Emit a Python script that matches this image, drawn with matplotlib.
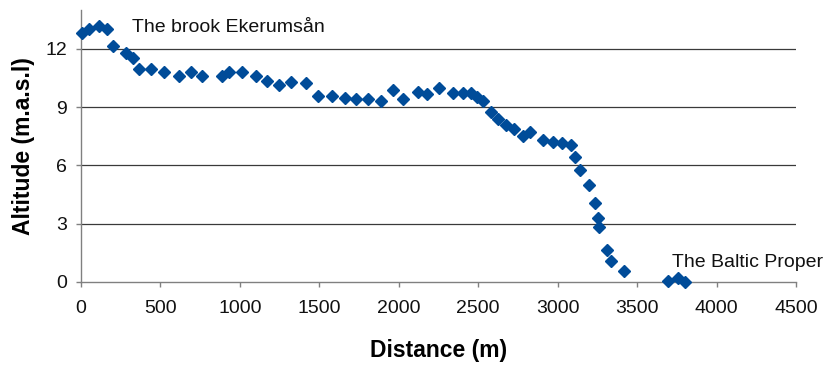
import matplotlib
matplotlib.use("Agg")
import matplotlib.pyplot as plt

# Longitudinal profile of the brook Ekerumsån down to the Baltic Proper
distance_m = [4, 52, 115, 162, 203, 283, 329, 365, 441, 522, 619, 690, 760,
              886, 933, 1011, 1101, 1173, 1246, 1322, 1414, 1494, 1578, 1662,
              1729, 1808, 1886, 1966, 2025, 2119, 2176, 2255, 2343, 2402, 2453,
              2494, 2532, 2579, 2626, 2675, 2725, 2780, 2826, 2906, 2969, 3025,
              3082, 3109, 3141, 3199, 3235, 3252, 3262, 3309, 3334, 3419, 3692,
              3759, 3801]
altitude_m = [12.84, 13.01, 13.20, 13.01, 12.17, 11.81, 11.52, 10.97, 10.97,
              10.80, 10.61, 10.80, 10.62, 10.61, 10.83, 10.83, 10.62, 10.37,
              10.14, 10.31, 10.26, 9.59, 9.59, 9.49, 9.41, 9.42, 9.32, 9.89,
              9.41, 9.80, 9.68, 9.97, 9.72, 9.72, 9.72, 9.51, 9.34, 8.77, 8.39,
              8.08, 7.86, 7.52, 7.71, 7.31, 7.22, 7.14, 7.05, 6.45, 5.77, 4.99,
              4.08, 3.31, 2.82, 1.65, 1.08, 0.57, 0.07, 0.22, 0.02]

x_ticks = [0, 500, 1000, 1500, 2000, 2500, 3000, 3500, 4000, 4500]
y_ticks = [0, 3, 6, 9, 12]

plt.rcParams['font.family'] = ['Liberation Sans', 'DejaVu Sans']

fig = plt.figure(figsize=(8.23, 3.65), dpi=100)
ax = fig.add_axes([0.0984, 0.2274, 0.8688, 0.7452])

ax.plot(distance_m, altitude_m, linestyle='none', marker='D', markersize=6.5,
        color='#004C99', clip_on=False, zorder=3)

ax.set_xlim(0, 4500)
ax.set_ylim(0, 14)
ax.set_xticks(x_ticks)
ax.set_yticks(y_ticks)
ax.set_xticklabels([str(v) for v in x_ticks])
ax.set_yticklabels([str(v) for v in y_ticks])

for y in y_ticks[1:]:
    ax.axhline(y, color='#3a3a3a', linewidth=0.9, zorder=1)

for side in ('top', 'right'):
    ax.spines[side].set_visible(False)
for side in ('left', 'bottom'):
    ax.spines[side].set_color('#808080')
    ax.spines[side].set_linewidth(1.0)

ax.tick_params(axis='both', direction='out', length=3.6, width=1.0,
               color='#808080', labelsize=14, labelcolor='#111111')
ax.tick_params(axis='x', pad=9.5)
ax.tick_params(axis='y', pad=6.5)

ax.set_xlabel('Distance (m)', fontsize=16.5, fontweight='bold', labelpad=16)
ax.set_ylabel('Altitude (m.a.s.l)', fontsize=16.5, fontweight='bold', labelpad=7)

ax.text(321, 12.89, 'The brook Ekerumsån', fontsize=14, va='baseline',
        ha='left', color='#111111')
ax.text(3719, 0.79, 'The Baltic Proper', fontsize=14, va='baseline',
        ha='left', color='#111111', clip_on=False)

fig.savefig('out.png', dpi=100)
